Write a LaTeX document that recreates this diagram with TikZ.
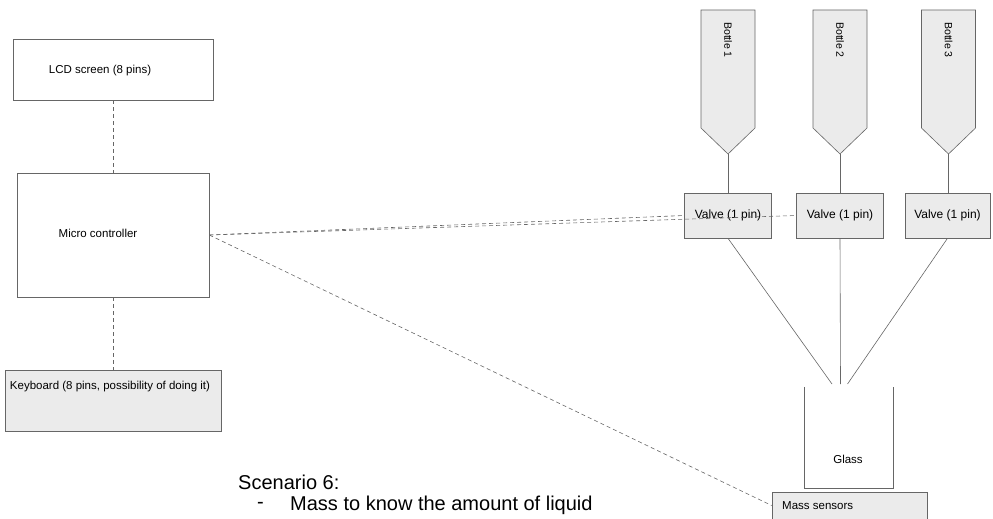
\documentclass[tikz,border=0pt]{standalone}
\usepackage{fontspec}
\setmainfont{Liberation Sans}
\usetikzlibrary{positioning}
\definecolor{boxgray}{HTML}{EBEBEB}
\definecolor{linegray}{HTML}{666666}

\begin{document}
\begin{tikzpicture}
[x=1pt, y=-1pt,
 box/.style={rectangle, draw=linegray, semithick, inner sep=0pt},
 part/.style={box, fill=boxgray},
 lbl/.style={inner sep=0pt, font=\fontsize{11.5}{13}\selectfont},
 big/.style={inner sep=0pt, font=\fontsize{20}{24}\selectfont},
 pipe/.style={draw=linegray, semithick},
 wire/.style={draw=linegray, semithick, dash pattern=on 4pt off 3pt}]
\useasboundingbox (0,0) rectangle (993,519);

% control side
\node[box, minimum width=200, minimum height=61] (lcd) at (113,69.5) {};
\node[lbl] (lcdtxt) at (100,71) {LCD screen (8 pins)};
\node[box, minimum width=192, minimum height=124] (mc) at (113,235) {};
\node[lbl] (mctxt) at (98,233) {Micro controller};
\node[part, minimum width=216, minimum height=61] (kb) at (113,400.5) {};
\node[lbl] (kbtxt) at (110,387) {Keyboard (8 pins, possibility of doing it)};
\draw[wire] (lcd) -- (mc);
\draw[wire] (mc) -- (kb);

% bottles
\foreach \i/\x in {1/728, 2/840, 3/948.5} {
  \draw[pipe, fill=boxgray] (\x-27,10) -- (\x+27,10) -- (\x+27,128)
    -- (\x,154) -- (\x-27,128) -- cycle;
  \coordinate (b\i) at (\x,154);
  \node[lbl, font=\fontsize{10.5}{12}\selectfont, rotate=-90] (bt\i) at (\x,40) {Bottle \i};
}

% valves
\tikzset{valve/.style={part, minimum height=45, font=\fontsize{12}{14}\selectfont}}
\node[valve, minimum width=87] (v1) at (728,215.5) {Valve (1 pin)};
\node[valve, minimum width=87] (v2) at (840,215.5) {Valve (1 pin)};
\node[valve, minimum width=85] (v3) at (947.5,215.5) {Valve (1 pin)};
\foreach \i in {1,2,3} \draw[pipe] (b\i) -- (b\i |- v\i.north);

% glass on the scale
\coordinate (g1) at (832,384);
\coordinate (g2) at (840.5,384);
\coordinate (g3) at (847.5,384);
\draw[pipe] (v1.south) -- (g1);
\draw[pipe] (v2.south) -- (g2);
\draw[pipe] (v3.south) -- (g3);
\node[minimum width=89, minimum height=101, inner sep=0pt] (glass) at (848.5,437.5) {};
\draw[pipe] (glass.north west) -- (glass.south west) -- (glass.south east) -- (glass.north east);
\node[lbl] (glasstxt) at (848,459) {Glass};
\node[part, minimum width=155, minimum height=27] (ms) at (849.5,505.5) {};
\node[lbl, anchor=west] (mstxt) at (782,506) {Mass sensors};

% signal lines
\draw[wire] (mc.east) -- (v1.west);
\draw[wire] (mc.east) -- (v2.west);
\draw[wire] (mc.east) -- (ms.west);

% notes
\node[big, anchor=west] (scen) at (238,482) {Scenario 6:};
\node[big, anchor=west] (dash) at (257,505) {-};
\node[big, anchor=west] (goal) at (290,505) {Mass to know the amount of liquid};

\end{tikzpicture}
\end{document}
